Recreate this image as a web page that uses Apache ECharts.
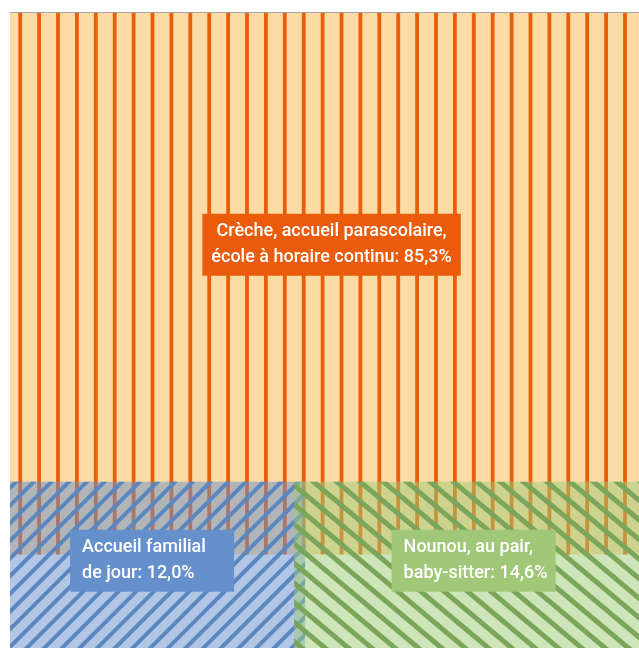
<!DOCTYPE html>
<html><head><meta charset="utf-8">
<script src="https://cdn.jsdelivr.net/npm/echarts@6/dist/echarts.min.js"></script>
<style>html,body{margin:0;padding:0;background:#fff}#c{width:639px;height:648px}</style>
</head><body><div id="c"></div>
<script>
// ---- data ----
const categories = ['Crèche, accueil parascolaire,\nécole à horaire continu', 'Accueil familial\nde jour', 'Nounou, au pair,\nbaby-sitter'];
const shares = [85.3, 12.0, 14.6];
const shareLabels = ['85,3%', '12,0%', '14,6%'];

// ---- styles ----
const fills = ['#FDDBA5', 'rgba(102,144,203,0.5)', 'rgba(158,204,118,0.5)'];
const stripeColors = ['#EA5D0B', '#5B87C1', '#7BA55A'];
const labelColors = ['#EA5B0C', '#6690CB', '#A0C878'];
const stripeSpec = [ // angle, period, width, phase offset (px)
  {angle: 90, period: 18.9, width: 3.8, offset: 8.3},
  {angle: -45, period: 12.5, width: 4, offset: 0},
  {angle: 40, period: 15, width: 5, offset: 0}
];
const TOTAL = 100;
const VISIBLE_X = 97.8; // the picture is cropped on the right
const BAND = 26.15; // layout height of the bottom band (area-proportional widths)

function regionOf(i) {
  if (i === 0) return {x0: 0, x1: TOTAL, y0: TOTAL - shares[0], y1: TOTAL};
  if (i === 1) return {x0: 0, x1: shares[1] / BAND * TOTAL, y0: 0, y1: BAND};
  return {x0: TOTAL - shares[2] / BAND * TOTAL, x1: TOTAL, y0: 0, y1: BAND};
}

function clipHalf(poly, nx, ny, c, keepGreater) {
  const out = [];
  const s = keepGreater ? 1 : -1;
  const f = p => (nx * p[0] + ny * p[1] - c) * s;
  for (let i = 0; i < poly.length; i++) {
    const a = poly[i], b = poly[(i + 1) % poly.length];
    const fa = f(a), fb = f(b);
    if (fa >= 0) out.push(a);
    if ((fa >= 0) !== (fb >= 0)) {
      const t = fa / (fa - fb);
      out.push([a[0] + t * (b[0] - a[0]), a[1] + t * (b[1] - a[1])]);
    }
  }
  return out;
}
function stripes(x0, y0, x1, y1, spec, color) {
  const th = spec.angle * Math.PI / 180;
  const nx = -Math.sin(th), ny = Math.cos(th);
  const corners = [[x0, y0], [x1, y0], [x1, y1], [x0, y1]];
  const vals = corners.map(p => nx * p[0] + ny * p[1]);
  const mn = Math.min(...vals), mx = Math.max(...vals);
  let phase;
  if (spec.angle === 90) phase = -(x0 + spec.offset + spec.width);
  else phase = spec.offset;
  const out = [];
  let k = Math.floor((mn - phase) / spec.period) - 1;
  for (; phase + k * spec.period < mx; k++) {
    const c = phase + k * spec.period;
    let poly = clipHalf(corners, nx, ny, c, true);
    if (poly.length < 3) continue;
    poly = clipHalf(poly, nx, ny, c + spec.width, false);
    if (poly.length < 3) continue;
    out.push({type: 'polygon', shape: {points: poly}, style: {fill: color}, silent: true});
  }
  return out;
}

const chart = echarts.init(document.getElementById('c'));
const option = {
  backgroundColor: '#fff',
  animation: false,
  grid: {left: 10, top: 12, right: 0, bottom: 0},
  xAxis: {type: 'value', min: 0, max: VISIBLE_X, position: 'top', z: 10,
    axisLine: {show: true, onZero: false, lineStyle: {color: '#A6A6A6', width: 1}},
    axisTick: {show: false}, axisLabel: {show: false}, splitLine: {show: false}},
  yAxis: {type: 'value', min: 0, max: TOTAL, show: false},
  series: [
    {
      type: 'custom', clip: false, z: 2,
      data: shares.map((v, i) => [i, v]),
      renderItem: function (params, api) {
        const i = api.value(0);
        const r = regionOf(i);
        const p0 = api.coord([r.x0, r.y1]);
        const p1 = api.coord([r.x1, r.y0]);
        const children = [{type: 'rect', shape: {x: p0[0], y: p0[1], width: p1[0] - p0[0], height: p1[1] - p0[1]}, style: {fill: fills[i]}, silent: true}];
        return {type: 'group', children: children.concat(stripes(p0[0], p0[1], p1[0], p1[1], stripeSpec[i], stripeColors[i]))};
      }
    },
    {
      type: 'custom', clip: false, z: 5,
      data: shares.map((v, i) => [i, v]),
      renderItem: function (params, api) {
        const i = api.value(0);
        const r = regionOf(i);
        const text = categories[i] + ': ' + shareLabels[i];
        const font = '500 18px Roboto';
        if (i === 0) {
          const c = api.coord([(r.x0 + r.x1) / 2, (r.y1 + BAND) / 2]);
          return {type: 'text', x: c[0], y: c[1] - 2, silent: true,
            style: {text: text, fill: '#fff', font: font, align: 'center', verticalAlign: 'middle',
              backgroundColor: labelColors[i], padding: [5, 9], lineHeight: 26}};
        }
        const c = api.coord([(r.x0 + r.x1) / 2, (r.y0 + r.y1) / 2]);
        const boxW = 164;
        const dx = i === 1 ? -5.5 : 0;
        return {type: 'text', x: c[0] + dx - boxW / 2, y: c[1] - 4, silent: true,
          style: {text: text, fill: '#fff', font: font, align: 'left', verticalAlign: 'middle',
            backgroundColor: labelColors[i], padding: [5, 12], width: boxW - 24, lineHeight: 26}};
      }
    }
  ]
};
chart.setOption(option);
</script>
</body></html>
